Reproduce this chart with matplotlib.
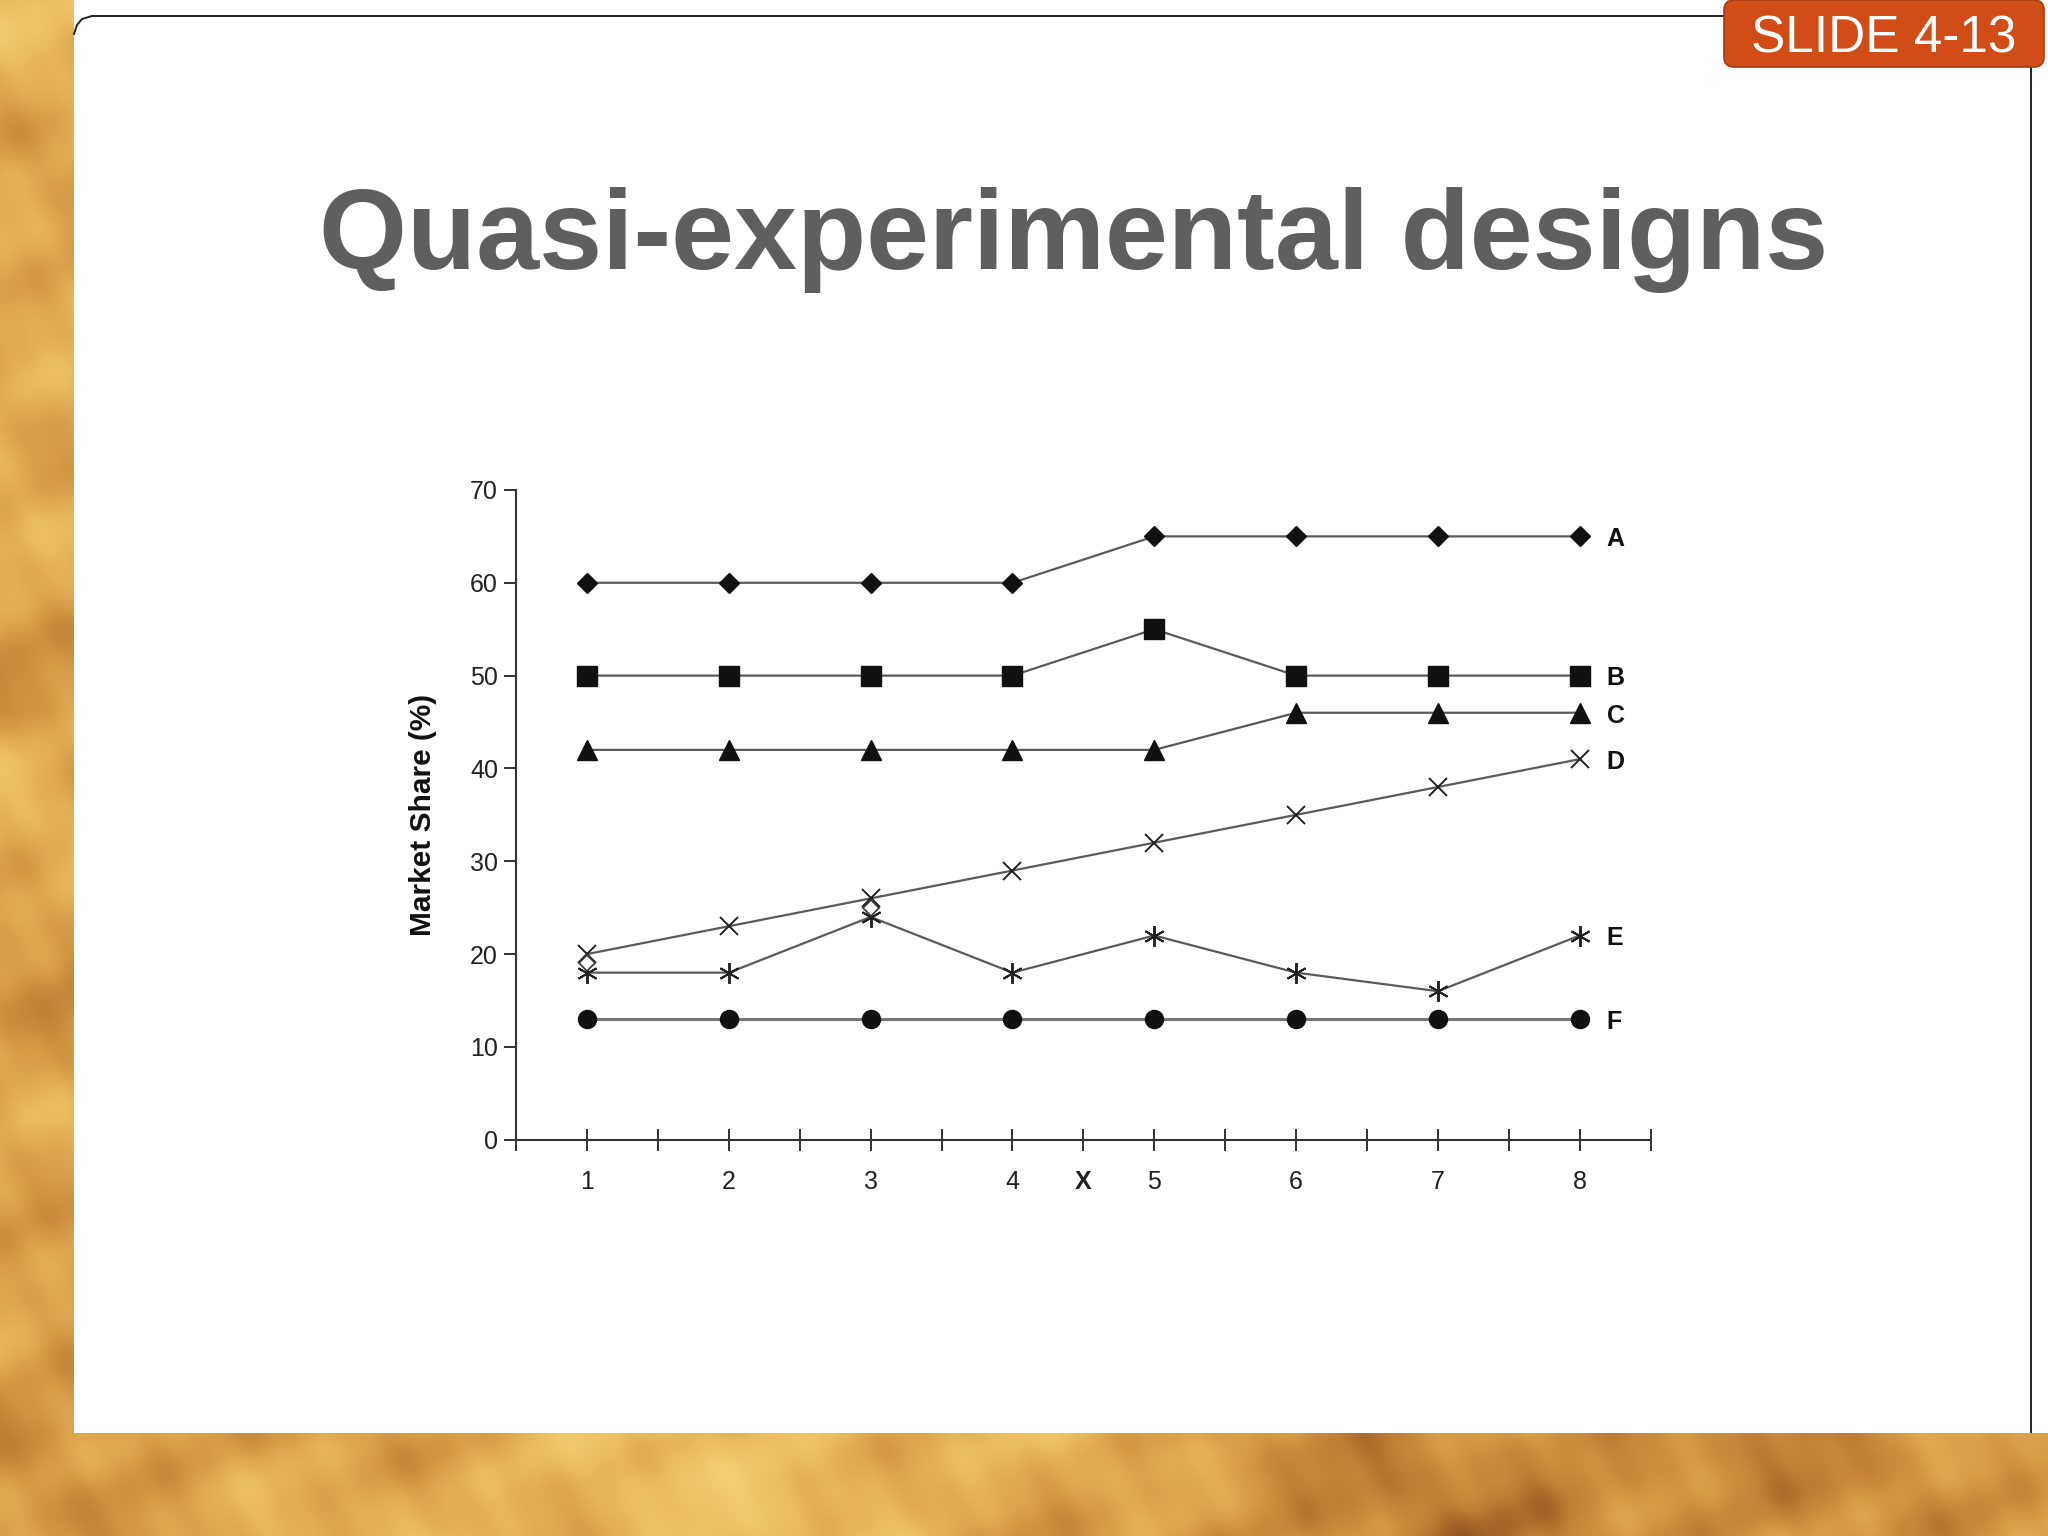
import numpy as np
import matplotlib.pyplot as plt
from matplotlib.patches import FancyBboxPatch, Rectangle
from matplotlib.colors import LinearSegmentedColormap

# data
periods = [1, 2, 3, 4, 5, 6, 7, 8]
series_a = [60, 60, 60, 60, 65, 65, 65, 65]
series_b = [50, 50, 50, 50, 55, 50, 50, 50]
series_c = [42, 42, 42, 42, 42, 46, 46, 46]
series_d = [20, 23, 26, 29, 32, 35, 38, 41]
series_e = [18, 18, 24, 18, 22, 18, 16, 22]
series_f = [13, 13, 13, 13, 13, 13, 13, 13]
series_names = ['A', 'B', 'C', 'D', 'E', 'F']
# two small open diamonds visible in the scan
open_x = [1, 3]
open_y = [19, 25]
tick_pos = [0.5, 1, 1.5, 2, 2.5, 3, 3.5, 4, 4.5, 5, 5.5, 6, 6.5, 7, 7.5, 8, 8.5]
tick_text = ['', '1', '', '2', '', '3', '', '4', 'X', '5', '', '6', '', '7', '', '8', '']

plt.rcParams['font.family'] = ['Liberation Sans', 'DejaVu Sans']

fig = plt.figure(figsize=(20.48, 15.36), dpi=100)

#background layer in pixel coordinates
bg = fig.add_axes([0, 0, 1, 1])
bg.axis('off')

#golden parchment texture built from overlapping waves at odd angles
yy, xx = np.mgrid[0:1536:3, 0:2048:3].astype(float)
tex = np.zeros_like(xx)
waves = [(0.9, 23.0, 0.3, 0.20), (2.1, 37.0, 1.7, 0.18), (-0.7, 15.0, 2.9, 0.12),
         (1.4, 61.0, 0.8, 0.15), (-1.9, 11.0, 4.1, 0.08), (0.2, 190.0, 2.2, 0.22),
         (2.7, 7.0, 5.3, 0.05)]
for ang, wl, ph, amp in waves:
    tex += amp * np.sin((xx * np.cos(ang) + yy * np.sin(ang)) / wl + ph)
tex += 0.25 * np.sin(xx / 420.0 + 0.4)
gold = LinearSegmentedColormap.from_list('gold', ['#8e4f1e', '#bf7c34', '#d99c48', '#ebbb5e', '#f3cd74'])
bg.imshow(tex, cmap=gold, extent=[0, 2048, 1536, 0], aspect='auto', zorder=0)
#white slide area
bg.add_patch(Rectangle((74, 0), 1974, 1433, facecolor='white', edgecolor='none', zorder=1))
#panel outline, top and right edges only
bg.plot([92, 1724], [16, 16], color='#222222', lw=1.4, zorder=2)
bg.plot([2031, 2031], [68, 1433], color='#222222', lw=1.4, zorder=2)
bg.plot([74, 77, 82, 92], [34, 25, 19, 16], color='#222222', lw=1.4, zorder=2)
#bottom strip of texture
bg.imshow(tex[478:, :], cmap=gold, extent=[0, 2048, 1536, 1433], aspect='auto', zorder=3,
          vmin=tex.min(), vmax=tex.max())
bg.set_xlim(0, 2048)
bg.set_ylim(1536, 0)

#slide number badge
bg.add_patch(FancyBboxPatch((1724, 0), 320, 67, boxstyle='round,pad=0,rounding_size=10',
                            facecolor='#d24c18', edgecolor='#a83a10', linewidth=1.2, zorder=4))
bg.text(1884, 39, 'SLIDE 4-13', color='white', fontsize=37, ha='center', va='center', zorder=5)

#title
bg.text(1074, 240, 'Quasi-experimental designs', color='#5f5f5f', fontsize=81.5,
        fontweight='bold', ha='center', va='center', zorder=5)

#the chart
ax = fig.add_axes([0.252, 0.258, 0.554, 0.423])
ax.set_facecolor('white')
line_col = '#5a5a5a'
lw = 1.6
ax.plot(periods, series_a, color=line_col, lw=lw, marker='D', ms=10, mfc='#111111', mec='#111111')
ax.plot(periods, series_b, color=line_col, lw=lw, marker='s', ms=14, mfc='#111111', mec='#111111')
ax.plot(periods, series_c, color=line_col, lw=lw, marker='^', ms=14, mfc='#111111', mec='#111111')
ax.plot(periods, series_d, color=line_col, lw=lw, marker='x', ms=13, mew=1.4, mec='#222222')
ax.plot(periods, series_e, color=line_col, lw=lw, marker=(6, 2, 0), ms=15, mew=1.4, mec='#222222')
ax.plot(periods, series_f, color='#777777', lw=2.2, marker='o', ms=13, mfc='#111111', mec='#111111')
ax.plot(open_x, open_y, ls='none', marker='D', ms=8, mfc='white', mec='#333333', mew=1.2)

all_series = [series_a, series_b, series_c, series_d, series_e, series_f]
for name, vals in zip(series_names, all_series):
    ax.text(8.19, vals[-1] - 0.3, name, fontsize=18, fontweight='bold', ha='left', va='center',
            color='#111111')

ax.set_xlim(0.5, 8.5)
ax.set_ylim(0, 70)
ax.set_yticks(range(0, 71, 10))
ax.set_xticks(tick_pos)
ax.set_xticklabels(tick_text)
for lab in ax.get_xticklabels():
    if lab.get_text() == 'X':
        lab.set_fontweight('bold')
ax.tick_params(axis='y', direction='out', length=9, width=1.3, labelsize=18, pad=4, colors='#222222')
ax.tick_params(axis='x', direction='inout', length=16, width=1.3, labelsize=18, pad=14, colors='#222222')
for side in ['top', 'right']:
    ax.spines[side].set_visible(False)
for side in ['left', 'bottom']:
    ax.spines[side].set_color('#333333')
    ax.spines[side].set_linewidth(1.5)
ax.set_ylabel('Market Share (%)', fontsize=21.5, fontweight='bold', color='#111111')
ax.yaxis.set_label_coords(-0.07, 0.5)

fig.savefig('out.png', dpi=100)
